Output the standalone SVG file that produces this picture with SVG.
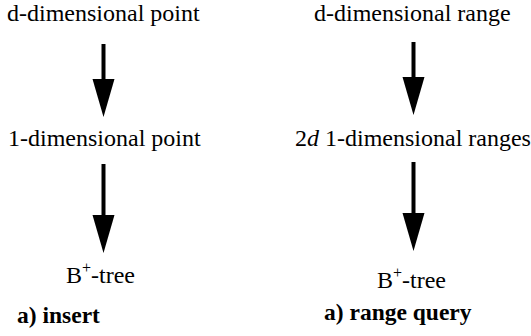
<svg xmlns="http://www.w3.org/2000/svg" width="531" height="336" viewBox="0 0 531 336">
<style>
text{font-family:'Liberation Serif','Times New Roman',serif;font-size:24px;fill:#000}
.b{font-weight:bold;font-size:23.5px}
.sup{font-size:16px}
.ln{stroke:#000;stroke-width:4;fill:none}
.hd{fill:#000}
</style>
<rect width="531" height="336" fill="#fff"/>
<g id="n1"><text x="7" y="21">d-dimensional point</text></g>
<g id="n2"><text x="8" y="146">1-dimensional point</text></g>
<g id="n3"><text x="66" y="283">B<tspan class="sup" dy="-10">+</tspan><tspan dy="10">-tree</tspan></text></g>
<g id="n4"><text x="314" y="21">d-dimensional range</text></g>
<g id="n5"><text x="295" y="146">2<tspan font-style="italic">d</tspan> 1-dimensional ranges</text></g>
<g id="n6"><text x="377" y="288">B<tspan class="sup" dy="-10">+</tspan><tspan dy="10">-tree</tspan></text></g>
<g id="cap1"><text class="b" x="17" y="323">a) insert</text></g>
<g id="cap2"><text class="b" x="324" y="320">a) range query</text></g>
<g id="connectors">
<line class="ln" x1="103.5" y1="44" x2="103.5" y2="80"/>
<polygon class="hd" points="92.5,79 114.5,79 103.5,117"/>
<line class="ln" x1="103.5" y1="164" x2="103.5" y2="216"/>
<polygon class="hd" points="92.5,215 114.5,215 103.5,253"/>
<line class="ln" x1="413.5" y1="42" x2="413.5" y2="78"/>
<polygon class="hd" points="402.5,77 424.5,77 413.5,115"/>
<line class="ln" x1="413.5" y1="162" x2="413.5" y2="214"/>
<polygon class="hd" points="402.5,213 424.5,213 413.5,251"/>
</g>
</svg>
